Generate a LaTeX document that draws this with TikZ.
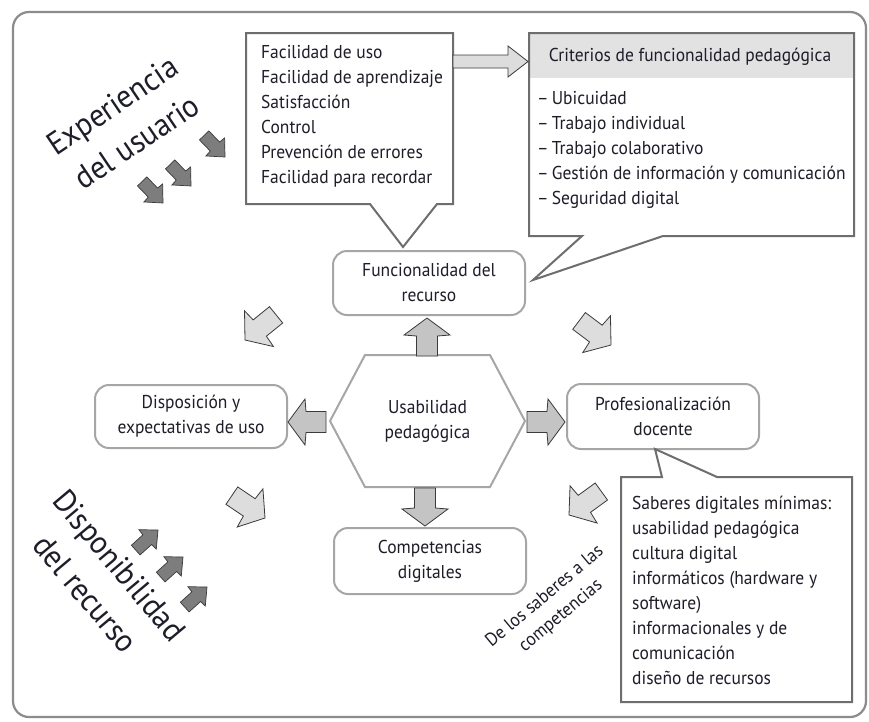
\documentclass[tikz,border=0pt]{standalone}
\usepackage{fontspec}
\setmainfont[FakeStretch=0.94]{PT Sans}
\usetikzlibrary{calc}
\definecolor{txt}{HTML}{1D1D2B}
\definecolor{frm}{HTML}{8C8C8C}
\definecolor{cll}{HTML}{6E6E6E}
\definecolor{bxl}{HTML}{A6A6A6}
\definecolor{hdr}{HTML}{E2E2E2}
\definecolor{afill}{HTML}{C4C4C4}
\definecolor{lfill}{HTML}{DDDDDD}
\definecolor{dfill}{HTML}{7D7D7D}
\definecolor{astroke}{HTML}{3A3A3A}
\newcommand\szmain{\fontsize{18.6}{25}\selectfont}
\newcommand\szbig{\fontsize{32}{44}\selectfont}
\tikzset{
 pics/barrow/.style={code={\draw[#1] (0,0) -- (-17,23) -- (-18,10.5) -- (-38,10.5) -- (-38,-10.5) -- (-18,-10.5) -- (-17,-23) -- cycle;}},
 pics/darrow/.style={code={\draw[#1] (0,0) -- (-18,23) -- (-19,10.5) -- (-40,10.5) -- (-40,-10.5) -- (-19,-10.5) -- (-18,-23) -- cycle;}},
 pics/sarrow/.style={code={\draw[#1] (0,0) -- (-14,13) -- (-14.5,6.5) -- (-30,6.5) -- (-30,-6.5) -- (-14.5,-6.5) -- (-14,-13) -- cycle;}},
 pics/warrow/.style={code={\draw[#1] (0,0) -- (-20,15.5) -- (-20,6.5) -- (-75,6.5) -- (-75,-6.5) -- (-20,-6.5) -- (-20,-15.5) -- cycle;}},
 midarrow/.style={fill=afill, draw=astroke, line width=0.8pt, line join=miter},
 lightarrow/.style={fill=lfill, draw=astroke, line width=0.8pt, line join=miter},
 darkarrow/.style={fill=dfill, draw=astroke, line width=0.7pt, line join=miter},
 plain/.style={font=\szmain, text=txt, inner sep=0pt},
 rbox/.style={draw=bxl, line width=2pt, rounded corners=14pt, minimum width=192pt, minimum height=64pt, align=center, font=\szmain, text=txt},
 callout/.style={draw=cll, line width=2pt, line join=miter},
 hexs/.style={draw=bxl, line width=2pt},
 frame/.style={draw=frm, line width=2.2pt, rounded corners=16pt}
}
\begin{document}
\begin{tikzpicture}[x=1pt,y=-1pt]
\useasboundingbox (0,0) rectangle (869,721);
\fill[white] (0,0) rectangle (869,721);
\draw[frame] (13,12) rectangle (866,717);

% top-left callout
\node[plain, anchor=west, align=left] (fac) at (261,116) {Facilidad de uso\\Facilidad de aprendizaje\\Satisfacción\\Control\\Prevención de errores\\Facilidad para recordar};
\draw[callout] (246,33) -- (453,33) -- (453,204) -- (437,204) -- (403,247) -- (370,204) -- (246,204) -- cycle;

% criteria callout
\fill[hdr] (529,33) rectangle (854,78);
\node[plain] (crith) at (690,57) {Criterios de funcionalidad pedagógica};
\node[plain, anchor=west, align=left] (critl) at (537,150) {\textendash\,Ubicuidad\\\textendash\,Trabajo individual\\\textendash\,Trabajo colaborativo\\\textendash\,Gestión de información y comunicación\\\textendash\,Seguridad digital};
\draw[callout] (529,33) -- (854,33) -- (854,236) -- (663,236) -- (533,280) -- (582,236) -- (529,236) -- cycle;

\pic at (528,61.5) {warrow=lightarrow};

% main nodes
\node[rbox] (fun) at (429,283) {Funcionalidad del\\recurso};
\node[rbox, minimum height=63pt] (dis) at (191,416.5) {Disposición y\\expectativas de uso};
\node[rbox, minimum height=65pt] (pro) at (663,416.5) {Profesionalización\\docente};
\node[rbox, minimum height=66pt] (com) at (430,561) {Competencias\\digitales};

\draw[hexs] (365,355) -- (490,355) -- (525,421) -- (490,487) -- (365,487) -- (330,421) -- cycle;
\node[plain, align=center] (usa) at (427.5,421) {Usabilidad\\pedagógica};

% straight arrows
\pic[rotate=90] at (427,318) {barrow=midarrow};
\pic[rotate=180] at (288,422) {barrow=midarrow};
\pic at (565,422) {barrow=midarrow};
\pic[rotate=-90] at (425,526) {barrow=midarrow};

% diagonal light arrows
\pic[rotate=219] at (245,340) {darrow=lightarrow};
\pic[rotate=-37] at (611,345) {darrow=lightarrow};
\pic[rotate=-34] at (265,518) {darrow=lightarrow};
\pic[rotate=216] at (569,515) {darrow=lightarrow};

% saberes callout
\node[plain, anchor=west, align=left] (sab) at (632,590) {Saberes digitales mínimas:\\usabilidad pedagógica\\cultura digital\\informáticos (hardware y\\software)\\informacionales y de\\comunicación\\diseño de recursos};
\draw[callout] (621,477) -- (662,477) -- (655,449) -- (717,477) -- (852,477) -- (852,702) -- (621,702) -- cycle;

% rotated labels
\node[plain, font=\szbig, rotate=34, align=center] (exp) at (124.5,123.5) {Experiencia\\del usuario};
\node[plain, font=\szbig, rotate=-50, align=center] (disp) at (102.5,579.5) {Disponibilidad\\del recurso};
\node[plain, rotate=40, align=center] (sab2) at (553,606.5) {De los saberes a las\\competencias};

% dark small arrows
\pic[rotate=-46] at (163,203) {sarrow=darkarrow};
\pic[rotate=-46] at (191,186) {sarrow=darkarrow};
\pic[rotate=-46] at (225,157) {sarrow=darkarrow};
\pic[rotate=42] at (158,530) {sarrow=darkarrow};
\pic[rotate=42] at (183,557) {sarrow=darkarrow};
\pic[rotate=42] at (207,587) {sarrow=darkarrow};
\end{tikzpicture}
\end{document}
